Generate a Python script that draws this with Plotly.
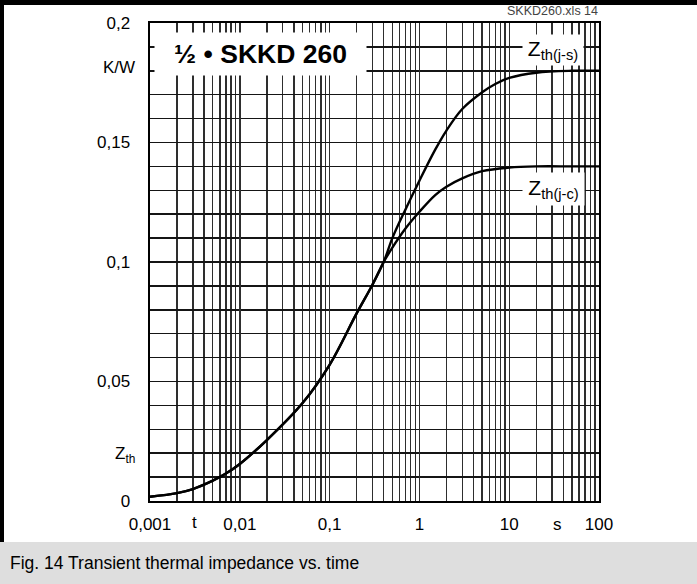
import plotly.graph_objects as go

# ---- data ----
t_common = [0.001, 0.002, 0.003, 0.005, 0.007, 0.01, 0.02, 0.05, 0.1, 0.2, 0.3, 0.4]
z_common = [0.0018, 0.0033, 0.0050, 0.0085, 0.0115, 0.0155, 0.0255, 0.0410, 0.0570, 0.0785, 0.0905, 0.1000]

t_js = [0.5, 0.7, 1, 1.5, 2, 3, 5, 7, 10, 20, 50, 100]
z_js = [0.110, 0.122, 0.134, 0.147, 0.155, 0.164, 0.171, 0.1745, 0.177, 0.1792, 0.18, 0.18]

t_jc = [0.5, 0.7, 1, 1.5, 2, 3, 5, 10, 20, 50, 100]
z_jc = [0.106, 0.114, 0.121, 0.128, 0.1315, 0.135, 0.138, 0.1395, 0.140, 0.140, 0.140]

x_major = [0.001, 0.01, 0.1, 1, 10, 100]
x_major_text = ["0,001", "0,01", "0,1", "1", "10", "100"]
y_major = [0, 0.05, 0.1, 0.15, 0.2]
y_major_text = ["0", "0,05", "0,1", "0,15", "0,2"]

x_minor = [k * 10.0 ** e for e in range(-3, 2) for k in range(2, 10)]
y_minor = [round(i * 0.01, 2) for i in range(1, 20) if i % 5 != 0]

FONT = "Liberation Sans, Arial, Helvetica, sans-serif"

fig = go.Figure()
fig.add_trace(go.Scatter(x=t_common + t_js, y=z_common + z_js, mode="lines",
                         line=dict(color="black", width=2.4, shape="spline", smoothing=1.0),
                         name="Zth(j-s)", hoverinfo="skip"))
fig.add_trace(go.Scatter(x=t_common + t_jc, y=z_common + z_jc, mode="lines",
                         line=dict(color="black", width=2.4, shape="spline", smoothing=1.0),
                         name="Zth(j-c)", hoverinfo="skip"))

gridc_x = "#2e2e2e"
gridc_y = "#151515"

fig.update_layout(
    width=697, height=584,
    margin=dict(l=150, r=98, t=23, b=83),
    paper_bgcolor="white", plot_bgcolor="white",
    showlegend=False,
    hovermode=False,
    font=dict(family=FONT, size=17, color="black"),
    xaxis=dict(type="log", range=[-3, 2], tickvals=x_major, ticktext=x_major_text,
               showgrid=True, gridcolor=gridc_x, gridwidth=1.4, zeroline=False,
               showline=True, linecolor="black", linewidth=2.4, mirror=True,
               ticks="", ticklabelstandoff=6,
               minor=dict(tickvals=x_minor, showgrid=True, gridcolor=gridc_x, gridwidth=1.4, ticks="")),
    yaxis=dict(range=[0, 0.2], tickvals=y_major, ticktext=y_major_text,
               showgrid=True, gridcolor=gridc_y, gridwidth=1.5, zeroline=False,
               showline=True, linecolor="black", linewidth=2.4, mirror=True,
               ticks="", ticklabelstandoff=14,
               minor=dict(tickvals=y_minor, showgrid=True, gridcolor=gridc_y, gridwidth=1.5, ticks="")),
)

def px(xp):
    return (xp - 150) / 449.0

def py(yp):
    return (501 - yp) / 478.0

# frame decorations
fig.add_shape(type="rect", xref="paper", yref="paper", x0=px(0), x1=px(697), y0=py(542), y1=py(584),
              fillcolor="#dedede", line=dict(width=0), layer="below")
fig.add_shape(type="rect", xref="paper", yref="paper", x0=px(0), x1=px(697), y0=py(5), y1=py(0),
              fillcolor="black", line=dict(width=0), layer="above")
fig.add_shape(type="rect", xref="paper", yref="paper", x0=px(0), x1=px(4), y0=py(542), y1=py(0),
              fillcolor="black", line=dict(width=0), layer="above")

ann = []
ann.append(dict(text="<b>½ • SKKD 260</b>", x=px(260), y=py(54), xref="paper", yref="paper",
                showarrow=False, font=dict(size=26.5, family=FONT, color="black"),
                bgcolor="white", width=211, height=42, borderpad=0, xanchor="center", yanchor="middle"))
ann.append(dict(text="Z<sub>th(j-s)</sub>", x=px(552.5), y=py(50), xref="paper", yref="paper",
                showarrow=False, font=dict(size=21, family=FONT, color="black"),
                bgcolor="white", width=60, height=30, borderpad=0, xanchor="center", yanchor="middle"))
ann.append(dict(text="Z<sub>th(j-c)</sub>", x=px(553), y=py(189), xref="paper", yref="paper",
                showarrow=False, font=dict(size=21, family=FONT, color="black"),
                bgcolor="white", width=61, height=32, borderpad=0, xanchor="center", yanchor="middle"))
ann.append(dict(text="K/W", x=px(137), y=py(67), xref="paper", yref="paper", showarrow=False,
                xanchor="right", yanchor="middle", font=dict(size=17, family=FONT)))
ann.append(dict(text="Z<sub>th</sub>", x=px(137), y=py(455), xref="paper", yref="paper", showarrow=False,
                xanchor="right", yanchor="middle", font=dict(size=17, family=FONT)))
ann.append(dict(text="t", x=px(194), y=py(522), xref="paper", yref="paper", showarrow=False,
                xanchor="center", yanchor="middle", font=dict(size=17, family=FONT)))
ann.append(dict(text="s", x=px(557), y=py(524), xref="paper", yref="paper", showarrow=False,
                xanchor="center", yanchor="middle", font=dict(size=17, family=FONT)))
ann.append(dict(text="SKKD260.xls 14", x=px(600), y=py(11), xref="paper", yref="paper", showarrow=False,
                xanchor="right", yanchor="middle", font=dict(size=12.5, family=FONT, color="#444444")))
ann.append(dict(text="Fig. 14 Transient thermal impedance vs. time", x=px(8), y=py(563),
                xref="paper", yref="paper", showarrow=False, xanchor="left", yanchor="middle",
                font=dict(size=17.5, family=FONT, color="black")))
fig.update_layout(annotations=ann)

fig.write_html("out.html",
               config={"displayModeBar": False, "staticPlot": True},
               post_script="document.body.style.margin='0';document.body.style.padding='0';")
